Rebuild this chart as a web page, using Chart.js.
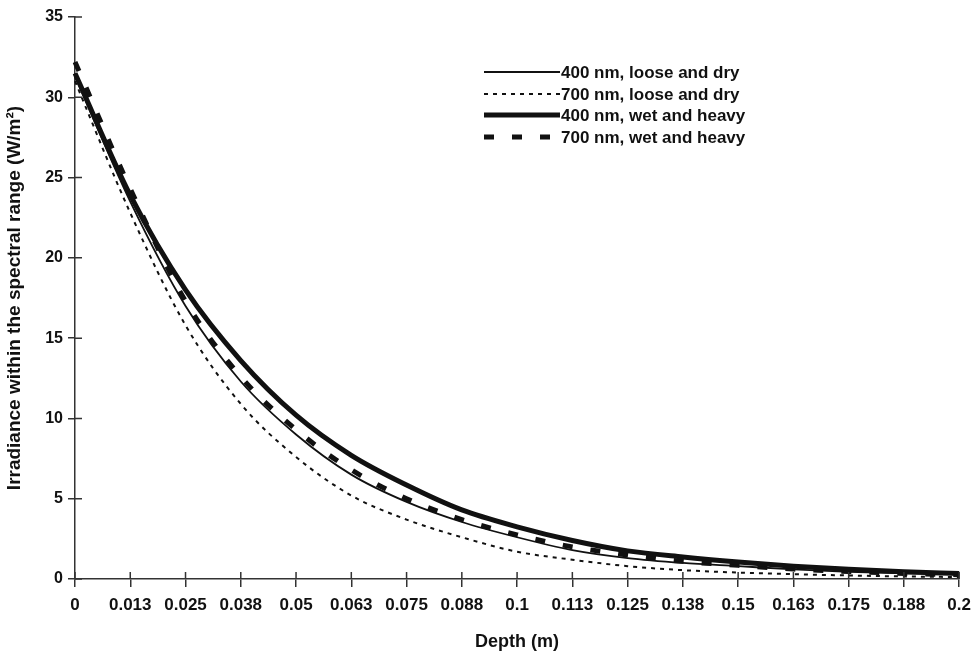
<!DOCTYPE html>
<html>
<head>
<meta charset="utf-8">
<script src="https://cdn.jsdelivr.net/npm/chart.js@4"></script>
<style>
  html, body { margin: 0; padding: 0; background: #fff; }
  #wrap { width: 979px; height: 657px; position: relative; }
</style>
</head>
<body>
<div id="wrap"><canvas id="c-irr"></canvas></div>
<script>
// === DATA ===
const depthLabels = ['0', '0.013', '0.025', '0.038', '0.05', '0.063', '0.075', '0.088', '0.1',
    '0.113', '0.125', '0.138', '0.15', '0.163', '0.175', '0.188', '0.2'];
const yTicks = [0, 5, 10, 15, 20, 25, 30, 35];

const dry400 = [31.3, 23.5, 17.0, 12.3, 9.0, 6.5, 4.8, 3.55, 2.6, 1.8, 1.3, 1.0, 0.8, 0.6, 0.45, 0.35, 0.3];
const dry700 = [31.0, 22.8, 15.8, 10.9, 7.6, 5.2, 3.7, 2.6, 1.7, 1.2, 0.8, 0.55, 0.4, 0.3, 0.22, 0.16, 0.12];
const wet400 = [31.5, 23.9, 18.0, 13.6, 10.2, 7.7, 5.85, 4.3, 3.25, 2.4, 1.75, 1.37, 1.06, 0.8, 0.6, 0.45, 0.35];
const wet700 = [32.2, 24.3, 17.3, 12.6, 9.3, 6.8, 5.0, 3.7, 2.75, 2.0, 1.5, 1.1, 0.85, 0.62, 0.47, 0.35, 0.27];

const FONT = "'Liberation Sans', Arial, sans-serif";
const INK = '#111';

// === PLUGINS ===
// ticks that cross the axis line (Excel style)
const crossTicks = {
    id: 'crossTicks',
    afterDraw(chart) {
        const ctx = chart.ctx;
        const xs = chart.scales.x, ys = chart.scales.y;
        const a = chart.chartArea;
        ctx.save();
        ctx.strokeStyle = '#333';
        ctx.lineWidth = 1.5;
        ctx.beginPath();
        ys.ticks.forEach((t, i) => {
            const y = ys.getPixelForTick(i);
            ctx.moveTo(a.left, y); ctx.lineTo(a.left + 7, y);
        });
        xs.ticks.forEach((t, i) => {
            const x = xs.getPixelForTick(i);
            ctx.moveTo(x, a.bottom); ctx.lineTo(x, a.bottom - 7);
        });
        ctx.stroke();
        ctx.restore();
    }
};

// legend inside the plot, line sample then text
const insideLegend = {
    id: 'insideLegend',
    afterDraw(chart) {
        const ctx = chart.ctx;
        const x0 = 484, x1 = 560, rowY = [72, 94, 115, 137];
        ctx.save();
        ctx.font = 'bold 17px ' + FONT;
        ctx.textBaseline = 'middle';
        ctx.fillStyle = INK;
        chart.data.datasets.forEach((ds, i) => {
            const y = rowY[i];
            ctx.strokeStyle = INK;
            ctx.lineWidth = ds.borderWidth;
            ctx.setLineDash(ds.borderDash || []);
            ctx.beginPath();
            ctx.moveTo(x0, y); ctx.lineTo(x1, y);
            ctx.stroke();
            ctx.setLineDash([]);
            ctx.fillText(ds.label, x1 + 1, y + 1);
        });
        ctx.restore();
    }
};

// === CHART ===
function mkChart() {
    const el = document.getElementById('c-irr');
    const line = (label, data, width, dash) => ({
        label, data,
        borderColor: INK, backgroundColor: INK,
        borderWidth: width, borderDash: dash,
        pointRadius: 0, fill: false,
        cubicInterpolationMode: 'monotone'
    });

    new Chart(el, {
        type: 'line',
        data: {
            labels: depthLabels,
            datasets: [
                line('400 nm, loose and dry', dry400, 1.8, []),
                line('700 nm, loose and dry', dry700, 2, [4, 5]),
                line('400 nm, wet and heavy', wet400, 5, []),
                line('700 nm, wet and heavy', wet700, 5, [10, 18])
            ]
        },
        options: {
            responsive: true,
            maintainAspectRatio: false,
            animation: false,
            layout: { padding: { top: 17, right: 17, left: 0, bottom: 0 } },
            plugins: { legend: { display: false }, tooltip: { enabled: false } },
            scales: {
                x: {
                    type: 'category',
                    offset: false,
                    grid: { display: true, drawOnChartArea: false, drawTicks: true, tickLength: 8, color: '#333', lineWidth: 1.5 },
                    border: { display: true, color: '#333', width: 1.5 },
                    ticks: { color: INK, font: { family: FONT, size: 17, weight: 'bold' }, maxRotation: 0, autoSkip: false, padding: 8 },
                    title: { display: true, text: 'Depth (m)', color: INK, font: { family: FONT, size: 18, weight: 'bold' }, padding: { top: 4, bottom: 4 } },
                    afterFit: s => { s.height = 78; }
                },
                y: {
                    min: yTicks[0], max: yTicks[yTicks.length - 1],
                    afterBuildTicks: s => { s.ticks = yTicks.map(v => ({ value: v })); },
                    grid: { display: true, drawOnChartArea: false, drawTicks: true, tickLength: 7, color: '#333', lineWidth: 1.5 },
                    border: { display: true, color: '#333', width: 1.5 },
                    ticks: { color: INK, font: { family: FONT, size: 16, weight: 'bold' }, padding: 5 },
                    title: { display: true, text: 'Irradiance within the spectral range (W/m²)', color: INK, font: { family: FONT, size: 19, weight: 'bold' }, padding: { top: 3, bottom: 4 } },
                    afterFit: s => { s.width = 75; }
                }
            }
        },
        plugins: [crossTicks, insideLegend]
    });
}

document.addEventListener('DOMContentLoaded', mkChart);
</script>
</body>
</html>
